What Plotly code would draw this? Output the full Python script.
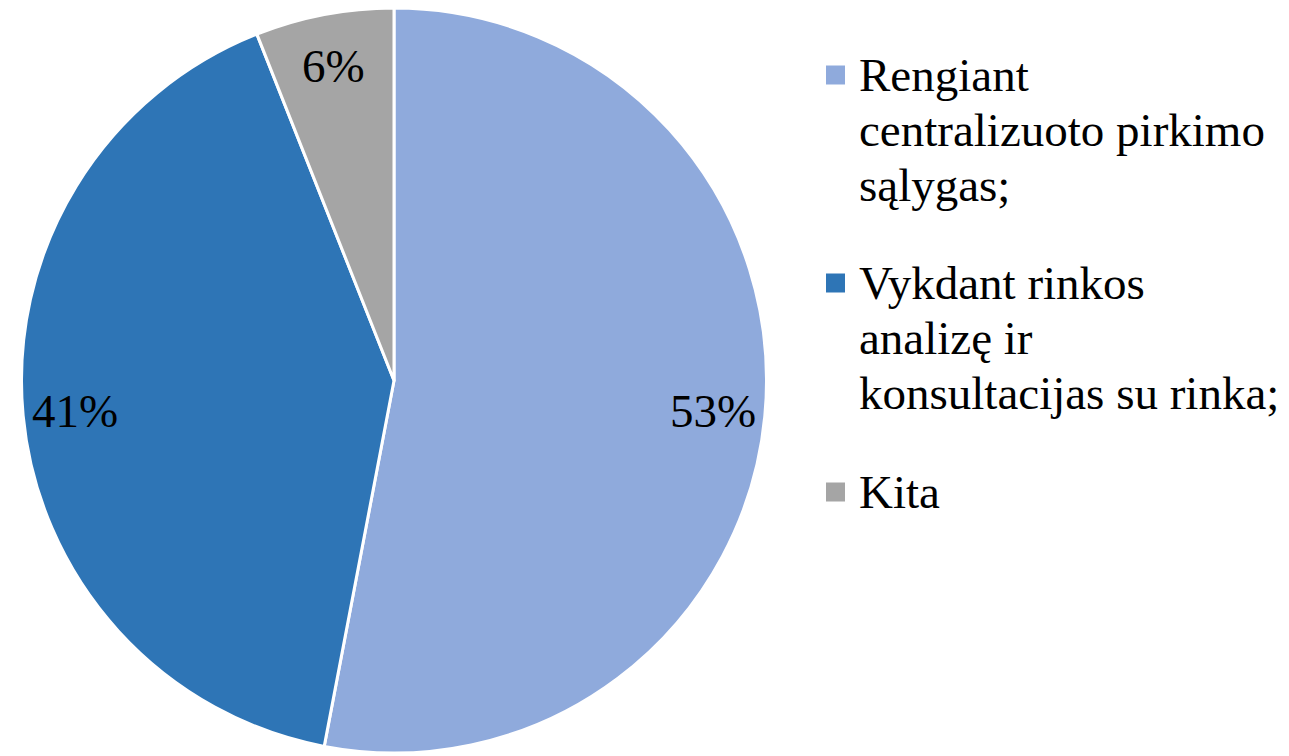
import math
import plotly.graph_objects as go

labels = ["Rengiant centralizuoto pirkimo sąlygas;",
          "Vykdant rinkos analizę ir konsultacijas su rinka;",
          "Kita"]
legend_lines = [["Rengiant", "centralizuoto pirkimo", "sąlygas;"],
                ["Vykdant rinkos", "analizę ir", "konsultacijas su rinka;"],
                ["Kita"]]
values = [53, 41, 6]
colors = ["#8FAADC", "#2E75B6", "#A5A5A5"]

W, H = 1289, 756
FONT = "Liberation Serif"
FS = 47

# pie domain in pixels
px0, px1, py0, py1 = 18, 770, 8, 753
fig = go.Figure(go.Pie(
    labels=labels, values=values, sort=False, direction="clockwise",
    rotation=0, marker=dict(colors=colors, line=dict(color="white", width=3)),
    textinfo="none", hoverinfo="label+percent", showlegend=False,
    domain=dict(x=[px0 / W, px1 / W], y=[1 - py1 / H, 1 - py0 / H]),
))

cx, cy = (px0 + px1) / 2, (py0 + py1) / 2
R = min(px1 - px0, py1 - py0) / 2
total = sum(values)
ann = []
cum = 0
for v in values:
    mid = (cum + v / 2) / total * 2 * math.pi
    cum += v
    r = 0.86 * R
    x = cx + r * math.sin(mid)
    y = cy - r * math.cos(mid)
    ann.append(dict(x=x / W, y=1 - y / H, xref="paper", yref="paper",
                    text=f"{round(v / total * 100)}%", showarrow=False,
                    font=dict(family=FONT, size=FS, color="#000000"),
                    xanchor="center", yanchor="middle"))

# manual legend
line_y = [[75, 130, 185], [283, 338, 393], [492]]
shapes = []
for i, lines in enumerate(legend_lines):
    sy = line_y[i][0]
    shapes.append(dict(type="rect", xref="paper", yref="paper",
                       x0=826 / W, x1=845 / W, y0=1 - (sy + 9.5) / H, y1=1 - (sy - 9.5) / H,
                       fillcolor=colors[i], line=dict(width=0)))
    for j, t in enumerate(lines):
        ann.append(dict(x=857 / W, y=1 - line_y[i][j] / H, xref="paper", yref="paper",
                        text=t, showarrow=False, xanchor="left", yanchor="middle",
                        font=dict(family=FONT, size=FS, color="#000000")))

fig.update_layout(
    width=W, height=H, margin=dict(l=0, r=0, t=0, b=0),
    paper_bgcolor="white", plot_bgcolor="white",
    font=dict(family=FONT, size=FS, color="#000000"),
    annotations=ann, shapes=shapes, showlegend=False,
)
fig.write_html("out.html", config={"displayModeBar": False},
               post_script="document.body.style.margin='0px';")
